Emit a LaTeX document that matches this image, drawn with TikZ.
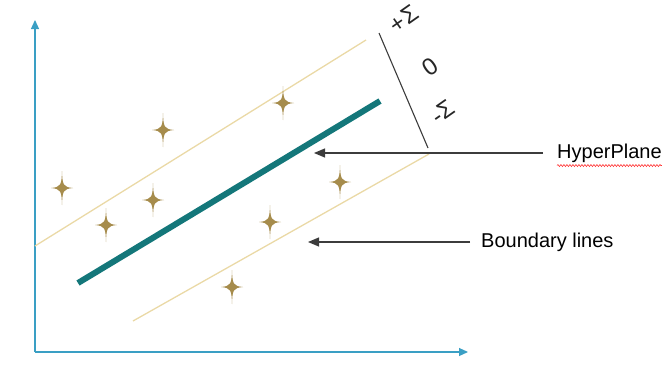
\documentclass[tikz,border=0pt]{standalone}
\usepackage{fontspec}
\setmainfont{Liberation Sans}
\usetikzlibrary{arrows.meta,decorations.pathmorphing}
\definecolor{axisblue}{HTML}{3A9FC4}
\definecolor{teal1}{HTML}{14777A}
\definecolor{tan1}{HTML}{EAD9A6}
\definecolor{gold1}{HTML}{A68C4C}
\definecolor{arr}{HTML}{3C3C3C}
\tikzset{
  axis/.style={draw=axisblue, line width=1.2pt, -{Triangle[length=9pt,width=8pt]}},
  bline/.style={draw=tan1, line width=1.3pt},
  hyper/.style={draw=teal1, line width=6pt},
  pointer/.style={draw=arr, line width=1.2pt, -{Triangle[length=11pt,width=9pt]}},
  lbl/.style={font=\fontsize{20}{24}\selectfont, text=black, inner sep=0pt},
  sig/.style={font=\fontsize{24}{28}\selectfont, text=black!85, inner sep=0pt, rotate=35},
  sparkle/.pic={\fill[gold1] (0,-17) .. controls (0.5,-3) and (1,-1) .. (11,0)
     .. controls (1,1) and (0.5,3) .. (0,17)
     .. controls (-0.5,3) and (-1,1) .. (-11,0)
     .. controls (-1,-1) and (-0.5,-3) .. cycle;}
}
\begin{document}
\begin{tikzpicture}[x=1pt,y=-1pt]
\useasboundingbox (0,0) rectangle (668,372);
% axes
\coordinate (O) at (35,352);
\coordinate (Ytop) at (35,20);
\coordinate (Xend) at (468,352);
\draw[axis] (O) -- (Ytop);
\draw[axis] (O) -- (Xend);
% boundary lines
\coordinate (U1) at (35,246);
\coordinate (U2) at (366,40);
\coordinate (L1) at (133,321);
\coordinate (L2) at (429,154);
\draw[bline] (U1) -- (U2);
\draw[bline] (L1) -- (L2);
% hyperplane
\coordinate (H1) at (78,283);
\coordinate (H2) at (380,101);
\draw[hyper] (H1) -- (H2);
% sparkles
\foreach \p/\q in {163/130, 283/103, 62/188, 106/225, 153/200, 340/182, 270/222, 232/287}
  \pic at (\p,\q) {sparkle};
% sigma scale
\coordinate (S1) at (379,33);
\coordinate (S2) at (428,148);
\draw[draw=arr, line width=1.1pt] (S1) -- (S2);
\node[sig] (splus) at (404,19) {+Σ};
\node[sig] (szero) at (430,67) {0};
\node[sig] (sminus) at (443,112) {-Σ};
% labels and pointers
\node[lbl, anchor=west] (hp) at (557,153) {HyperPlane};
\node[lbl, anchor=west] (bl) at (481,242) {Boundary lines};
\coordinate (hpS) at (543,153);
\coordinate (hpE) at (314,153);
\coordinate (blS) at (470,242);
\coordinate (blE) at (308,242);
\draw[pointer] (hpS) -- (hpE);
\draw[pointer] (blS) -- (blE);
\draw[red!80, line width=0.6pt, decorate, decoration={snake, amplitude=1pt, segment length=3pt}]
  ([yshift=-3pt]hp.south west) -- ([yshift=-3pt]hp.south east);
\end{tikzpicture}
\end{document}
